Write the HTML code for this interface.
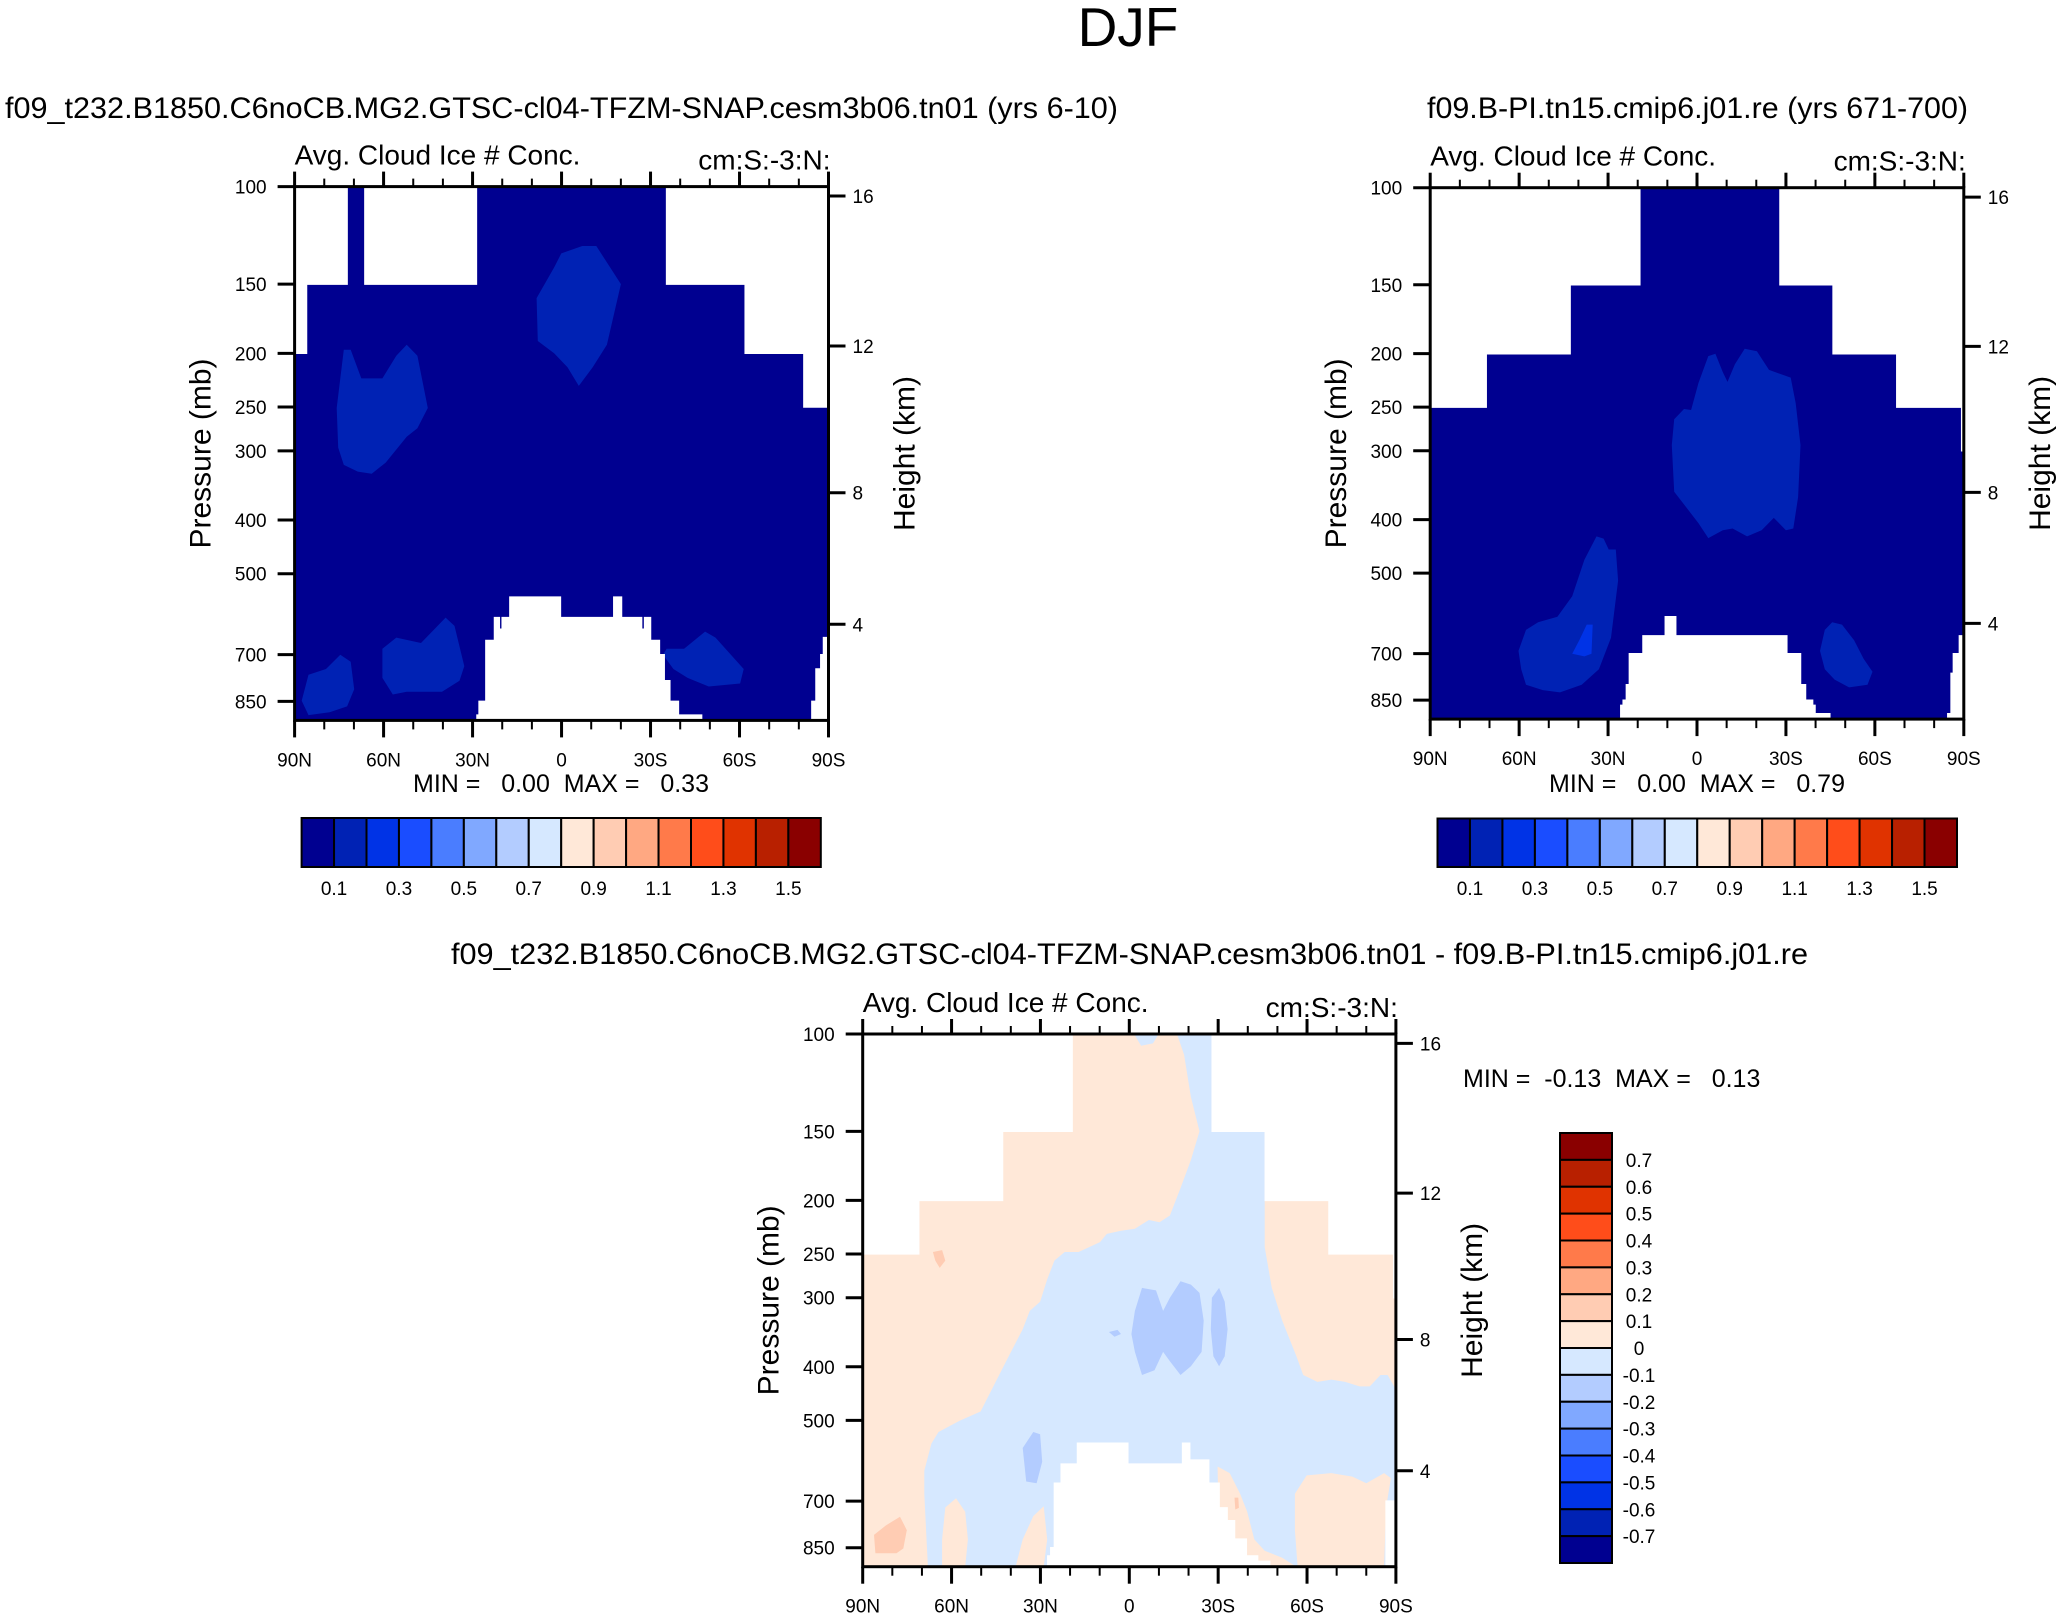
<!DOCTYPE html>
<html><head><meta charset="utf-8"><title>DJF Avg. Cloud Ice # Conc.</title>
<style>
html,body{margin:0;padding:0;background:#fff;}
svg{display:block;font-family:"Liberation Sans",Arial,sans-serif;}
.pre{white-space:pre;}
</style></head>
<body>
<svg id="fig" width="2062" height="1617" viewBox="0 0 2062 1617" xmlns="http://www.w3.org/2000/svg">
<rect x="0" y="0" width="2062" height="1617" fill="#fff"/>
<text x="1128" y="46" font-size="55" text-anchor="middle">DJF</text>
<text x="5" y="118" font-size="30" textLength="1113" lengthAdjust="spacingAndGlyphs">f09_t232.B1850.C6noCB.MG2.GTSC-cl04-TFZM-SNAP.cesm3b06.tn01 (yrs 6-10)</text>
<text x="1427" y="118" font-size="30" textLength="541" lengthAdjust="spacingAndGlyphs">f09.B-PI.tn15.cmip6.j01.re (yrs 671-700)</text>
<text x="451" y="964" font-size="30" textLength="1357" lengthAdjust="spacingAndGlyphs">f09_t232.B1850.C6noCB.MG2.GTSC-cl04-TFZM-SNAP.cesm3b06.tn01 - f09.B-PI.tn15.cmip6.j01.re</text>
<g id="p1"></g>
<g id="p2"></g>
<g id="p3"></g>
</svg>
<script>
const NS="http://www.w3.org/2000/svg";
// ---- data ----
const latTicks=[90,60,30,0,-30,-60,-90];
const latTickLabels=["90N","60N","30N","0","30S","60S","90S"];
const presTicks=[100,150,200,250,300,400,500,700,850];
const heightTicks=[16,12,8,4];
const heightTickPres=[104,194,357,617];
const cbColors=["#000090","#0022b4","#0033e6","#1a4dff","#4a7dff","#80a8ff","#b3ccff","#d6e8ff","#ffe8d8","#ffccb3","#ffa882","#ff7a4a","#ff4d1a","#e03300","#b82000","#8a0000"];
const cbLabels1=["0.1","0.3","0.5","0.7","0.9","1.1","1.3","1.5"];
const cbLabels3=["0.7","0.6","0.5","0.4","0.3","0.2","0.1","0","-0.1","-0.2","-0.3","-0.4","-0.5","-0.6","-0.7"];
// panel 1
const top1=[[90,86,200],[86,72.3,150],[66.3,28.7,150],[-35.4,-61.9,150],[-61.9,-81.7,200],[-81.7,-90,250]];
const hole1=[[28.5,920],[28.5,900],[27.8,900],[27.8,850],[25.5,850],[25.5,660],[22.6,660],[22.6,600],[21,600],[21,630],[20,630],[20,600],[17.4,600],[17.4,551],[0.4,551],[0.4,600],[-17.6,600],[-17.6,551],[-20.2,551],[-20.2,600],[-27,600],[-27,630],[-28,630],[-28,600],[-30,600],[-30,660],[-33,660],[-33,700],[-34.6,700],[-34.6,780],[-36.5,780],[-36.5,850],[-39.4,850],[-39.4,900],[-47.2,900],[-47.2,920]];
const edge1=[[-90,652],[-88.3,652],[-88.3,700],[-87.4,700],[-87.4,743],[-85.8,743],[-85.8,850],[-84.4,850],[-84.4,920],[-90,920]];
const blobA1=[[8.4,159],[2.5,140],[0.1,132],[-7,128],[-11.7,128],[-16.4,140],[-20,150],[-15.3,193],[-10.5,212],[-5.8,229],[-2,212],[2.5,200],[8,190]];
const blobB1=[[73.4,197],[71.1,197],[67.5,222],[60.4,222],[55.7,202],[52.2,193],[48.6,202],[45.1,251],[48.6,273],[52.2,283],[59.3,315],[64,330],[68.7,327],[73.4,318],[75.3,296],[75.8,251]];
const blobC1=[[87.6,848],[85.3,761],[79.4,743],[74.6,700],[71.1,721],[69.9,808],[72.3,868],[78.2,889],[85.3,900]];
const blobD1=[[60.4,683],[55.7,652],[47.4,667],[39.1,600],[36.1,621],[32.8,734],[34.4,780],[40.3,817],[52.2,817],[56.9,826],[60.4,771]];
const blobE1=[[-35.4,683],[-41.3,683],[-48.4,636],[-51.9,652],[-61.4,743],[-60.2,789],[-49.6,799],[-42.5,771],[-37.7,743],[-34.2,700]];
// panel 2
const top2=[[90,71.1,250],[71.1,42.8,200],[42.8,19.3,150],[-28,-45.9,150],[-45.9,-67.4,200],[-67.4,-89.3,250],[-89.3,-90,300]];
const hole2=[[25.7,920],[25.7,869],[24.9,869],[24.9,850],[23.8,850],[23.8,797],[22.8,797],[22.8,700],[18.2,700],[18.2,650],[10.7,650],[10.7,600],[7.2,600],[7.2,650],[-30.3,650],[-30.3,700],[-34.9,700],[-34.9,797],[-36.6,797],[-36.6,850],[-39,850],[-39,869],[-39.8,869],[-39.8,900],[-44.8,900],[-44.8,920]];
const edge2=[[-90,650],[-88.5,650],[-88.5,700],[-86.5,700],[-86.5,760],[-85.7,760],[-85.7,900],[-84.6,900],[-84.6,920],[-90,920]];
const blobF2=[[8.5,293],[7.7,263],[4.4,252],[2,253],[-0.5,226],[-3.8,202],[-6.2,200],[-8.7,216],[-10.3,225],[-12.8,209],[-16.1,196],[-20.2,198],[-24.3,214],[-28.4,218],[-31.6,221],[-33.3,246],[-34.9,293],[-34.1,364],[-32.5,415],[-30,418],[-25.9,397],[-21.8,418],[-16.9,429],[-12,415],[-8.7,418],[-3.8,432],[-0.5,406],[3.6,380],[7.7,356]];
const blobG2=[[60.2,692],[57.7,634],[53.6,614],[47.1,600],[42.1,551],[38,473],[33.9,429],[31.5,433],[29.8,453],[27.4,453],[26.6,516],[29,655],[33.1,747],[38.9,797],[46.2,823],[52,815],[57.7,797],[59.3,747]];
const blobG2inner=[[42.1,700],[39.7,662],[37.2,620],[35.2,620],[35.6,700],[38,708]];
const blobH2=[[-41.5,692],[-43.1,634],[-45.6,614],[-48.9,620],[-53,662],[-56.2,715],[-59.2,755],[-57.5,797],[-51.3,806],[-46.4,780],[-43.1,747]];
// panel 3 (difference)
const hole3=[[27.5,920],[27.5,880],[26.5,880],[26.5,850],[25.3,850],[25.3,650],[23,650],[23,600],[17.5,600],[17.5,550],[0.5,550],[0.5,600],[-18,600],[-18,550],[-20.4,550],[-20.4,590],[-26.8,590],[-26.8,650],[-30.3,650],[-30.3,720],[-33,720],[-33,760],[-35.5,760],[-35.5,820],[-39.5,820],[-39.5,880],[-43.3,880],[-43.3,900],[-47.4,900],[-47.4,920]];
const edge3=[[-90,700],[-86.7,700],[-86.7,920],[-90,920]];
const peachL3=[[19.4,100],[-16.1,100],[-18.5,109],[-20.8,130],[-23.7,150],[-20.8,169],[-17.3,190],[-13.7,213],[-10.2,219],[-6.6,217],[-1.9,225],[2.8,227],[7.6,230],[9.9,238],[17.1,248],[21.8,248],[25.3,257],[27.7,278],[30.1,305],[33.6,317],[36,342],[40.7,383],[45.5,430],[50.2,482],[57.3,501],[64.4,525],[66.8,551],[69.2,617],[69.2,679],[68,920],[90,920],[90,100]];
const peach2_3=[[62.1,719],[58.5,692],[55.4,732],[54.5,821],[55.4,920],[63.2,920],[63.2,821]];
const peach3_3=[[36,821],[32.4,745],[28.9,715],[27.7,821],[28.9,920],[38.4,920]];
const peachR3=[[-45.7,100],[-45.7,243],[-48.1,288],[-51.6,330],[-56.4,383],[-58.7,414],[-63.5,426],[-68.2,422],[-72.9,426],[-77.7,434],[-81.2,434],[-84.8,414],[-87.2,414],[-90,440],[-90,100]];
const peachBR1_3=[[-29.8,606],[-33.9,623],[-37.4,679],[-39.8,732],[-42.2,821],[-45.7,861],[-51.6,886],[-56.4,920],[-30.3,920]];
const peachBR2_3=[[-55.9,679],[-59.9,629],[-68.2,623],[-75.3,632],[-80,650],[-86,623],[-88.3,636],[-86.7,719],[-86,920],[-56.8,920],[-55.9,790]];
const blueTop3=[[-1.6,100],[-9.9,100],[-8,104],[-4,105]];
const dpeach1_3=[[86.2,806],[82.2,775],[77.4,747],[75.1,790],[76.3,853],[78.6,870],[85.7,870]];
const dpeach2_3=[[66.3,248],[63.2,246],[62.1,257],[64,265],[65.5,257]];
const dpeach3_3=[[-35.5,690],[-36.8,690],[-37,720],[-35.8,725]];
const dblue1_3=[[-1.9,317],[-4.3,288],[-9,291],[-11.4,317],[-13.7,300],[-17.3,280],[-20.8,284],[-23.7,294],[-25.1,330],[-24.4,376],[-20.8,399],[-17.3,414],[-13.7,391],[-11.4,376],[-8.5,406],[-4.3,414],[-1.9,376],[-0.7,349]];
const dblue2_3=[[-27.9,300],[-30.3,288],[-32.2,305],[-33.2,342],[-32.2,383],[-30.3,399],[-28.4,383],[-27.5,342]];
const dblue3_3=[[6.9,346],[4,343],[2.8,349],[5,353]];
const dblue4_3=[[36,561],[32.4,525],[30.1,530],[29.4,594],[31.3,650],[34.8,645]];

// ---- geometry ----
const PMAX=920;
const P1={g:document.getElementById('p1'),left:294.6,top:186.6,w:533.9,h:533.8,id:'c1'};
const P2={g:document.getElementById('p2'),left:1430.2,top:187.7,w:533.6,h:531.4,id:'c2'};
const P3={g:document.getElementById('p3'),left:862.7,top:1034,w:533.2,h:532.7,id:'c3'};
function xs(P,lat){return P.left+(90-lat)/180*P.w;}
function ys(P,p){return P.top+P.h*Math.log(p/100)/Math.log(PMAX/100);}
function mk(tag,parent){const e=document.createElementNS(NS,tag);parent.appendChild(e);return e;}
function poly(P,parent,pts,fill,name){
  const e=mk('polygon',parent);
  e.setAttribute('points',pts.map(q=>xs(P,q[0]).toFixed(1)+','+ys(P,q[1]).toFixed(1)).join(' '));
  e.setAttribute('fill',fill);
  if(fill==='#fff'){e.setAttribute('stroke','#fff');e.setAttribute('stroke-width','1.5');}
  
  
  return e;
}
function txt(parent,x,y,s,size,anchor,name){
  const t=mk('text',parent);
  t.setAttribute('x',x);t.setAttribute('y',y);t.setAttribute('font-size',size);
  t.setAttribute('text-anchor',anchor||'start');
  t.textContent=s;
  
  
  return t;
}
function line(parent,x1,y1,x2,y2,w,name){
  const l=mk('line',parent);
  l.setAttribute('x1',x1);l.setAttribute('y1',y1);l.setAttribute('x2',x2);l.setAttribute('y2',y2);
  l.setAttribute('stroke','#000');l.setAttribute('stroke-width',w);
  
  
}
function field(P){
  const defs=mk('defs',P.g);
  const cp=mk('clipPath',defs);cp.setAttribute('id',P.id);
  const r=mk('rect',cp);r.setAttribute('x',P.left);r.setAttribute('y',P.top);r.setAttribute('width',P.w);r.setAttribute('height',P.h);
  const g=mk('g',P.g);g.setAttribute('clip-path','url(#'+P.id+')');
  
  
  return g;
}
function base(P,g,fill){
  const r=mk('rect',g);r.setAttribute('x',P.left);r.setAttribute('y',P.top);r.setAttribute('width',P.w);r.setAttribute('height',P.h);r.setAttribute('fill',fill);
  
  
}
function topMask(P,g,steps){
  steps.forEach(s=>{
    poly(P,g,[[s[0],95],[s[1],95],[s[1],s[2]],[s[0],s[2]]],'#fff','missing-top');
  });
}
function axes(P){
  const g=P.g;
  const fr=mk('rect',g);fr.setAttribute('x',P.left);fr.setAttribute('y',P.top);fr.setAttribute('width',P.w);fr.setAttribute('height',P.h);
  fr.setAttribute('fill','none');fr.setAttribute('stroke','#000');fr.setAttribute('stroke-width',3);
  
  
  const B=P.top+P.h,T=P.top,L=P.left,R=P.left+P.w;
  for(let lat=90;lat>=-90;lat-=10){
    const x=xs(P,lat);const maj=(lat%30===0);
    line(g,x,B,x,B+(maj?17:9),maj?3:2,'x-tick');
    line(g,x,T,x,T-(maj?15:8),maj?3:2,'x-tick-top');
  }
  latTicks.forEach((lat,i)=>{txt(g,xs(P,lat),B+46,latTickLabels[i],19,'middle','x-tick-label');});
  presTicks.forEach(p=>{const y=ys(P,p);line(g,L-17,y,L,y,3,'y-tick');txt(g,L-28,y+7,String(p),19,'end','y-tick-label');});
  heightTicks.forEach((h,i)=>{const y=ys(P,heightTickPres[i]);line(g,R,y,R+17,y,3,'height-tick');txt(g,R+24,y+7,String(h),19,'start','height-tick-label');});
  const t1=txt(g,0,0,'Pressure (mb)',30,'middle','y-axis-title');
  t1.setAttribute('transform','translate('+(L-84)+','+(T+P.h*0.5)+') rotate(-90)');
  const t2=txt(g,0,0,'Height (km)',30,'middle','right-axis-title');
  t2.setAttribute('transform','translate('+(R+86)+','+(T+P.h*0.5)+') rotate(-90)');
  txt(g,L,T-22,'Avg. Cloud Ice # Conc.',28,'start','variable-title');
  txt(g,R+2,T-17,'cm:S:-3:N:',28,'end','units-label');
}
function hbar(g,x0,y0,w,h,labels,name){
  const bw=w/cbColors.length;
  cbColors.forEach((c,i)=>{
    const r=mk('rect',g);r.setAttribute('x',x0+i*bw);r.setAttribute('y',y0);r.setAttribute('width',bw);r.setAttribute('height',h);
    r.setAttribute('fill',c);r.setAttribute('stroke','#000');r.setAttribute('stroke-width',2);
    
    
  });
  labels.forEach((s,i)=>{txt(g,x0+(2*i+1)*bw,y0+h+28,s,19,'middle',name+'-label');});
}
// ---- panel 1 ----
(function(){
  const P=P1,g=field(P);
  base(P,g,cbColors[0]);
  [blobA1,blobB1,blobC1,blobD1,blobE1].forEach(b=>poly(P,g,b,cbColors[1],'contour-0.1-0.2'));
  topMask(P,g,top1);
  poly(P,g,hole1,'#fff','missing-below-ground');
  poly(P,g,edge1,'#fff','missing-polar');
  axes(P);
  const m=txt(P.g,561,792,'MIN =   0.00  MAX =   0.33',25,'middle','panel1-min-max');
  m.setAttribute('class','pre');
  hbar(P.g,301.6,818,519.2,49,cbLabels1,'panel1-colorbar');
})();
// ---- panel 2 ----
(function(){
  const P=P2,g=field(P);
  base(P,g,cbColors[0]);
  [blobF2,blobG2,blobH2].forEach(b=>poly(P,g,b,cbColors[1],'contour-0.1-0.2'));
  poly(P,g,blobG2inner,cbColors[2],'contour-0.2-0.3');
  topMask(P,g,top2);
  poly(P,g,hole2,'#fff','missing-below-ground');
  poly(P,g,edge2,'#fff','missing-polar');
  axes(P);
  const m=txt(P.g,1697,792,'MIN =   0.00  MAX =   0.79',25,'middle','panel2-min-max');
  m.setAttribute('class','pre');
  hbar(P.g,1437.5,818.5,519.5,48.5,cbLabels1,'panel2-colorbar');
})();
// ---- panel 3 ----
(function(){
  const P=P3,g=field(P);
  base(P,g,cbColors[7]);
  [peachL3,peach2_3,peach3_3,peachR3,peachBR1_3,peachBR2_3].forEach(b=>poly(P,g,b,cbColors[8],'contour-0-0.1'));
  poly(P,g,blueTop3,cbColors[7],'contour-neg0.1-0');
  [dpeach1_3,dpeach2_3,dpeach3_3].forEach(b=>poly(P,g,b,cbColors[9],'contour-0.1-0.2'));
  [dblue1_3,dblue2_3,dblue3_3,dblue4_3].forEach(b=>poly(P,g,b,cbColors[6],'contour-neg0.2-neg0.1'));
  topMask(P,g,top2);
  poly(P,g,hole3,'#fff','missing-below-ground');
  poly(P,g,edge3,'#fff','missing-polar');
  axes(P);
  const m=txt(P.g,1463,1087,'MIN =  -0.13  MAX =   0.13',25,'start','panel3-min-max');
  m.setAttribute('class','pre');
  const cg=mk('g',P.g);
  
  
  const x0=1560,y0=1133,w=52,h=430,bh=h/cbColors.length;
  cbColors.slice().reverse().forEach((c,i)=>{
    const r=mk('rect',cg);r.setAttribute('x',x0);r.setAttribute('y',y0+i*bh);r.setAttribute('width',w);r.setAttribute('height',bh);
    r.setAttribute('fill',c);r.setAttribute('stroke','#000');r.setAttribute('stroke-width',2);
    
    
  });
  cbLabels3.forEach((s,i)=>{txt(cg,1639,y0+(i+1)*bh+7,s,19,'middle','panel3-colorbar-label');});
})();
</script>
</body></html>
